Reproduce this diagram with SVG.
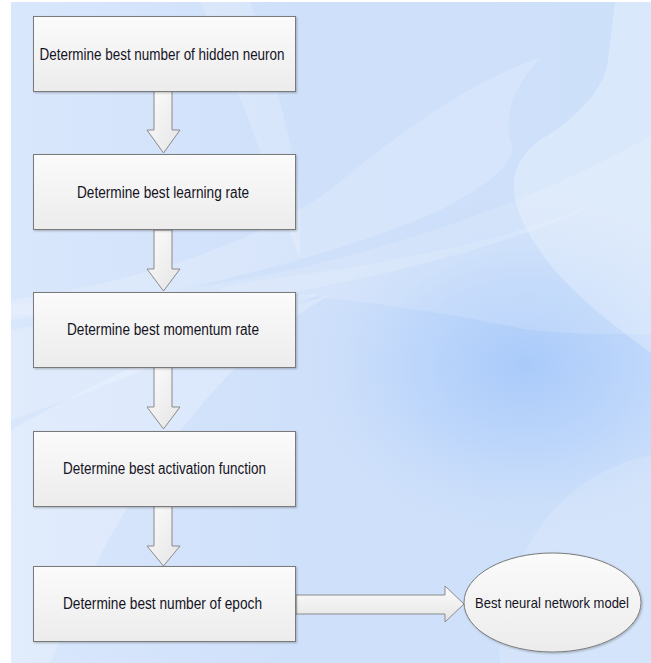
<svg xmlns="http://www.w3.org/2000/svg" width="651" height="663" viewBox="0 0 651 663">
  <style>
    .box { fill: url(#boxFill); stroke: #7a7a7a; stroke-width: 1; filter: url(#shadow); }
    .arrow { fill: url(#arrowFill); stroke: #8a8a8a; stroke-width: 1; stroke-linejoin: miter; }
    .label { font-family: "Liberation Sans", Arial, sans-serif; font-size: 16px; fill: #15131f; text-anchor: middle; }
    .swoosh { fill: #ffffff; }
  </style>
  <defs>
    <linearGradient id="bgBase" x1="0" y1="0" x2="1" y2="0">
      <stop offset="0" stop-color="#d9e7fc"/>
      <stop offset="0.45" stop-color="#cfe0fa"/>
      <stop offset="1" stop-color="#cde0fa"/>
    </linearGradient>
    <radialGradient id="bgSpot" cx="525" cy="365" r="230" gradientUnits="userSpaceOnUse" gradientTransform="translate(525 365) scale(1 0.75) translate(-525 -365)">
      <stop offset="0" stop-color="#a9cafa" stop-opacity="1"/>
      <stop offset="0.5" stop-color="#b6d2fb" stop-opacity="0.7"/>
      <stop offset="1" stop-color="#c8ddfa" stop-opacity="0"/>
    </radialGradient>
    <linearGradient id="boxFill" x1="0" y1="0" x2="0" y2="1">
      <stop offset="0" stop-color="#fbfbfb"/>
      <stop offset="1" stop-color="#ececec"/>
    </linearGradient>
    <linearGradient id="arrowFill" x1="0" y1="0" x2="1" y2="1">
      <stop offset="0" stop-color="#fdfdfd"/>
      <stop offset="1" stop-color="#e4e4e4"/>
    </linearGradient>
    <linearGradient id="arrowFillH" x1="0" y1="0" x2="0" y2="1">
      <stop offset="0" stop-color="#fdfdfd"/>
      <stop offset="1" stop-color="#e4e4e4"/>
    </linearGradient>
    <filter id="shadow" x="-5%" y="-5%" width="115%" height="120%">
      <feDropShadow dx="1" dy="1" stdDeviation="0.8" flood-color="#000000" flood-opacity="0.25"/>
    </filter>
  </defs>

  <!-- page background with decorative swooshes -->
  <g id="background">
    <rect x="0" y="0" width="651" height="663" fill="#ffffff"/>
    <rect x="11" y="2" width="640" height="661" fill="url(#bgBase)"/>
    <rect x="11" y="2" width="640" height="661" fill="url(#bgSpot)"/>
    <!-- right light band -->
    <path class="swoosh" opacity="0.25" d="M615,2 L651,2 L651,353 C600,315 545,275 520,215 C508,185 512,160 540,140 C590,110 606,80 608,60 Z"/>
    <!-- upper swoosh sweeping from top right down to left -->
    <path class="swoosh" opacity="0.18" d="M540,58 C470,80 390,140 330,190 C260,240 150,280 11,300 L11,320 C150,300 330,260 440,210 C490,185 520,160 510,140 C505,110 515,85 540,58 Z"/>
    <!-- long swoosh crossing the middle -->
    <path class="swoosh" opacity="0.15" d="M651,135 C560,190 420,240 300,268 C200,290 100,300 11,305 L11,315 C140,312 260,300 330,285 C450,260 560,230 651,175 Z"/>
    <path class="swoosh" opacity="0.14" d="M651,175 C570,225 440,255 300,275 C240,283 200,290 230,292 C330,294 430,310 530,330 C580,335 620,334 651,334 Z"/>
    <!-- lower left fan -->
    <path class="swoosh" opacity="0.2" d="M11,330 C120,310 230,300 320,294 C260,320 180,360 11,420 Z"/>
    <path class="swoosh" opacity="0.22" d="M11,663 L11,430 C100,380 200,330 330,295 C250,340 180,420 120,520 C90,570 70,620 50,663 Z"/>
    <!-- top arc band near the first step -->
    <path class="swoosh" opacity="0.18" d="M200,2 L250,2 C270,60 290,130 300,200 L300,260 C270,180 240,90 200,2 Z"/>
    <!-- lower right arc -->
    <path class="swoosh" opacity="0.14" d="M651,455 C580,470 530,520 510,590 C500,620 498,645 500,663 L651,663 Z"/>
  </g>

  <!-- connectors: block arrows between steps -->
  <g id="connectors">
    <polygon class="arrow" points="154,91 172,91 172,130 180,130 163.5,153 147,130 154,130"/>
    <polygon class="arrow" points="154,230 172,230 172,269 180,269 163.5,291 147,269 154,269"/>
    <polygon class="arrow" points="154,367 172,367 172,407 180,407 163.5,429 147,407 154,407"/>
    <polygon class="arrow" points="154,506 172,506 172,546 180,546 163.5,566 147,546 154,546"/>
    <polygon class="arrow" style="fill:url(#arrowFillH)" points="296,595 445,595 445,586 464,604 445,622 445,614 296,614"/>
  </g>

  <g id="step-hidden-neuron">
    <rect class="box" x="33.5" y="16.5" width="262" height="75"/>
    <text class="label" x="162" y="59.5" textLength="245" lengthAdjust="spacingAndGlyphs">Determine best number of hidden neuron</text>
  </g>
  <g id="step-learning-rate">
    <rect class="box" x="33.5" y="154.5" width="262" height="75"/>
    <text class="label" x="163" y="198" textLength="172" lengthAdjust="spacingAndGlyphs">Determine best learning rate</text>
  </g>
  <g id="step-momentum-rate">
    <rect class="box" x="33.5" y="292.5" width="262" height="75"/>
    <text class="label" x="163" y="335" textLength="192" lengthAdjust="spacingAndGlyphs">Determine best momentum rate</text>
  </g>
  <g id="step-activation-function">
    <rect class="box" x="33.5" y="431.5" width="262" height="75"/>
    <text class="label" x="164.5" y="474" textLength="203" lengthAdjust="spacingAndGlyphs">Determine best activation function</text>
  </g>
  <g id="step-epoch">
    <rect class="box" x="33.5" y="566.5" width="262" height="75"/>
    <text class="label" x="162.5" y="609" textLength="199" lengthAdjust="spacingAndGlyphs">Determine best number of epoch</text>
  </g>
  <g id="best-model">
    <ellipse class="box" cx="552.5" cy="602.5" rx="88.5" ry="49.5"/>
    <text class="label" x="552" y="608" style="font-size:15px" textLength="154" lengthAdjust="spacingAndGlyphs">Best neural network model</text>
  </g>
</svg>
